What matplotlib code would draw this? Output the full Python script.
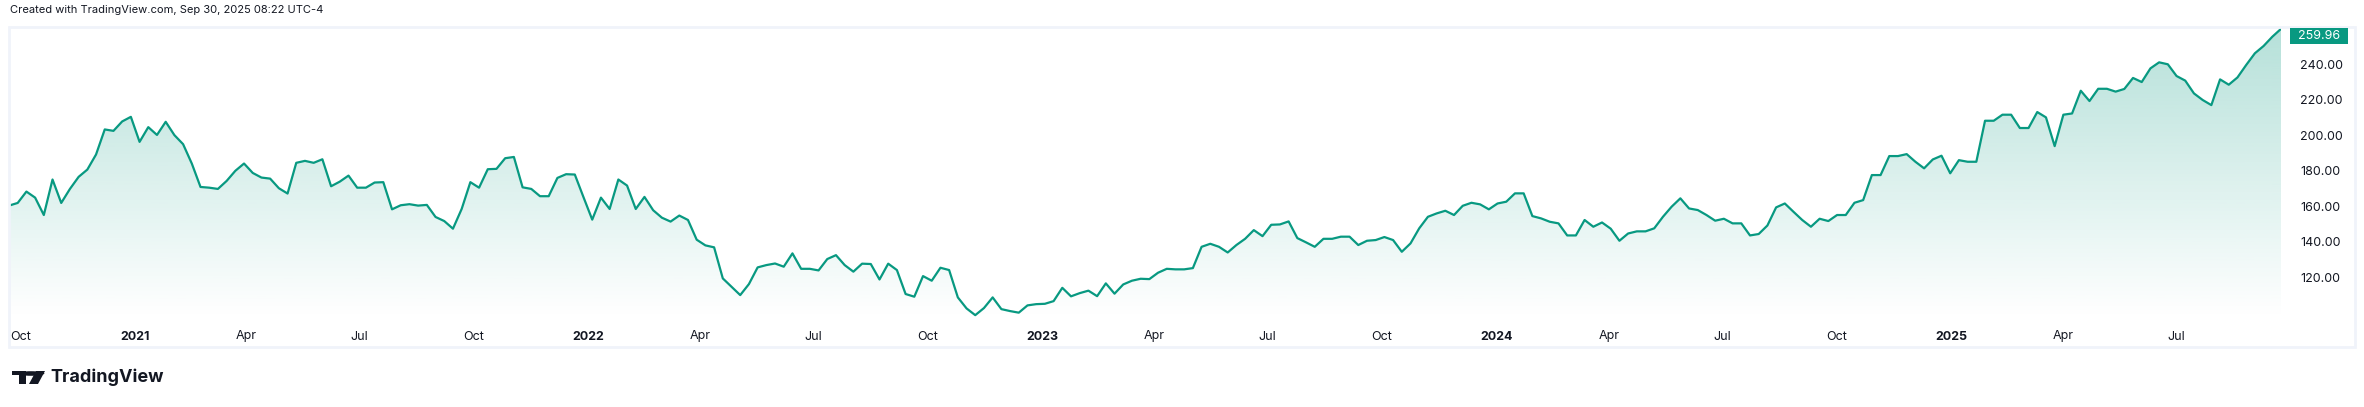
import matplotlib
matplotlib.use("Agg")
import matplotlib.pyplot as plt
import numpy as np
import pandas as pd
from matplotlib.patches import Rectangle, Polygon, Circle

plt.rcParams['font.family'] = ['Inter', 'DejaVu Sans']

values = [
 160.4,161.9,168.3,164.9,155.1,175.1,161.9,169.8,176.6,180.7,189.2,203.3,202.5,207.8,210.4,196.3,
 204.6,200.2,207.6,200.1,195.0,184.1,170.9,170.5,169.8,174.3,180.0,184.1,178.8,176.2,175.6,170.2,
 167.2,184.5,185.6,184.5,186.5,171.3,173.9,177.3,170.5,170.5,173.4,173.6,158.3,160.6,161.2,160.4,
 160.8,154.0,151.7,147.4,158.5,173.6,170.5,180.9,181.1,187.1,187.8,170.7,169.8,165.7,165.7,176.0,
 178.1,177.9,165.1,152.5,164.9,158.5,175.1,171.7,158.5,165.3,157.8,153.6,151.4,154.8,152.3,141.2,
 138.0,136.9,
 119.4,114.7,110.0,116.2,125.6,126.9,127.8,126.0,133.5,124.8,124.8,123.9,130.3,132.5,126.9,123.2,
 127.7,127.5,118.8,127.7,124.1,110.6,109.1,120.7,118.1,125.4,124.1,108.7,102.5,98.7,102.7,108.7,
 102.1,101.0,100.1,104.2,104.9,105.1,106.6,114.1,109.3,111.1,112.5,109.4,116.6,110.8,116.0,118.1,
 119.2,119.0,122.6,124.8,124.5,124.5,125.2,137.2,138.9,137.2,
 134.0,138.2,141.7,146.6,143.2,149.6,149.8,151.5,142.1,139.7,137.2,141.7,141.7,142.9,142.9,138.2,
 140.6,141.0,142.7,141.0,134.4,139.1,147.6,154.1,156.0,157.5,155.1,160.3,162.0,161.1,158.3,161.6,
 162.6,167.3,167.3,154.5,153.2,151.3,150.4,143.6,143.6,152.3,148.5,150.9,147.4,140.6,144.7,145.9,
 145.9,147.6,154.1,159.8,164.5,158.8,157.9,155.1,151.9,153.0,150.4,150.4,143.6,144.4,149.2,159.4,
 161.6,156.9,152.3,148.5,153.0,151.7,155.1,155.1,162.0,163.5,177.6,177.6,188.3,188.3,189.4,185.1,
 181.4,186.4,188.5,178.6,186.0,185.1,185.1,208.2,208.2,211.6,211.6,204.1,204.1,213.1,210.1,193.9,
 211.6,212.3,225.1,219.3,226.2,226.2,224.6,226.1,232.3,230.0,237.7,241.1,240.0,233.4,230.8,223.6,
 219.9,217.0,231.5,228.5,232.6,239.6,246.2,250.3,255.5,259.96]
last_price = "259.96"
y_ticks = [120, 140, 160, 180, 200, 220, 240]
header = "Created with TradingView.com, Sep 30, 2025 08:22 UTC-4"

dates = pd.date_range(end="2025-09-23", periods=len(values), freq="W-TUE")

W, H = 2364, 407
fig = plt.figure(figsize=(W/100, H/100), dpi=100)
def fx(px): return px / W
def fy(py): return 1 - py / H

ax_l, ax_r, ax_t, ax_b = 9, 2281, 27, 318
ax = fig.add_axes([fx(ax_l), fy(ax_b), fx(ax_r - ax_l), (ax_b - ax_t) / H])
ymin, ymax = 97.1, 261.0
green = "#089981"
x = np.array([d.toordinal() for d in dates], dtype=float)
v = np.array(values)
ax.set_xlim(x[0], x[-1])
ax.set_ylim(ymin, ymax)

# gradient fill
grad = np.linspace(0, 1, 256).reshape(-1, 1)
cmap = matplotlib.colors.LinearSegmentedColormap.from_list(
    "g", [(8/255, 153/255, 129/255, 0.0), (8/255, 153/255, 129/255, 0.30)])
im = ax.imshow(grad, extent=[x[0], x[-1], ymin, ymax], origin="lower",
               aspect="auto", cmap=cmap, zorder=1)
poly = Polygon(np.column_stack([np.r_[x[0], x, x[-1]], np.r_[ymin, v, ymin]]),
               closed=True, transform=ax.transData, facecolor="none", edgecolor="none")
ax.add_patch(poly)
im.set_clip_path(poly)
ax.plot(x, v, color=green, lw=1.6, zorder=3, solid_joinstyle="round")

for s in ax.spines.values():
    s.set_visible(False)

# x ticks
ticks, labels, bold = [], [], []
for yr in range(2020, 2026):
    for m, name in [(1, str(yr)), (4, "Apr"), (7, "Jul"), (10, "Oct")]:
        d = pd.Timestamp(yr, m, 1).toordinal()
        if x[0] <= d <= x[-1]:
            ticks.append(d); labels.append(name); bold.append(m == 1)
ax.set_xticks(ticks)
ax.set_xticklabels(labels)
for t, b in zip(ax.get_xticklabels(), bold):
    t.set_fontweight("bold" if b else "normal")
ax.tick_params(axis="x", length=0, pad=9, labelsize=9, colors="#131722")

ax.yaxis.tick_right()
ax.set_yticks(y_ticks)
ax.set_yticklabels([f"{t:.2f}" for t in y_ticks])
ax.tick_params(axis="y", length=0, pad=14, labelsize=9, colors="#131722")

# frame
fig.patches.append(Rectangle((fx(9), fy(347)), fx(2355 - 9), (347 - 27) / H,
                             transform=fig.transFigure, fill=False,
                             edgecolor="#f0f3fa", lw=2))
# price label
fig.patches.append(Rectangle((fx(2290), fy(44)), fx(58), 16 / H,
                             transform=fig.transFigure, facecolor=green, edgecolor="none"))
fig.text(fx(2319), fy(36), last_price, color="white", fontsize=9, ha="center", va="center")

fig.text(fx(10), fy(10), header, fontsize=8, color="#131722", va="center", ha="left")

# TradingView logo
fig.patches.append(Rectangle((fx(12), fy(375)), fx(14), 4 / H, transform=fig.transFigure,
                             facecolor="#131722", edgecolor="none"))
fig.patches.append(Rectangle((fx(19), fy(384)), fx(7), 13 / H, transform=fig.transFigure,
                             facecolor="#131722", edgecolor="none"))
fig.patches.append(Circle((fx(31), fy(373.5)), 2.3 / H, transform=fig.transFigure,
                          facecolor="#131722", edgecolor="none"))
fig.patches.append(Polygon([(fx(36), fy(371)), (fx(45), fy(371)), (fx(38), fy(384)), (fx(29), fy(384))],
                           closed=True, transform=fig.transFigure, facecolor="#131722", edgecolor="none"))
fig.text(fx(50), fy(377), "TradingView", fontsize=13, fontweight="bold",
         color="#131722", va="center", ha="left")

fig.savefig("out.png", dpi=100, facecolor="white")
